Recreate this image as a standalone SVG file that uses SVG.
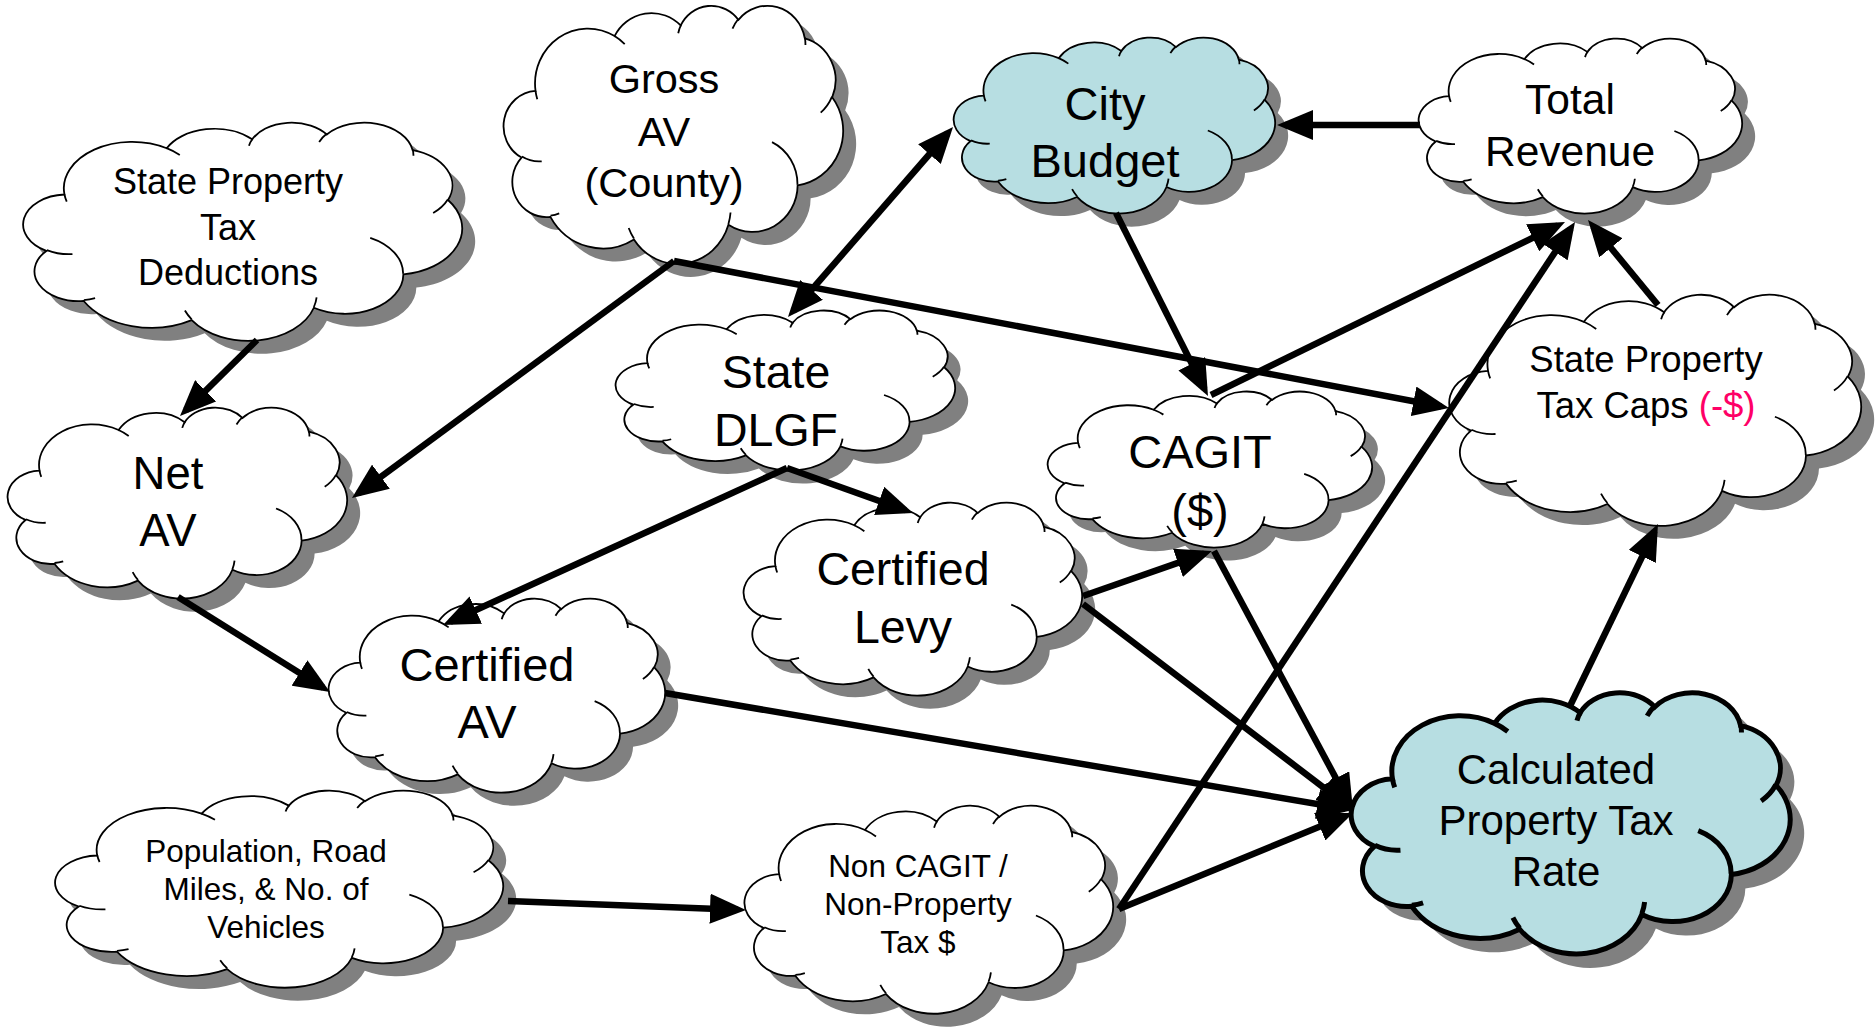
<svg xmlns="http://www.w3.org/2000/svg" xmlns:xlink="http://www.w3.org/1999/xlink" width="1876" height="1027" viewBox="0 0 1876 1027">
<style>
.sh{fill:#808080;stroke:none}
.cl{fill:#ffffff;stroke:#000000;stroke-width:1.8}
.tl{fill:#B7DEE2;stroke:#000000;stroke-width:1.8}
.tlb{fill:#B7DEE2;stroke:#000000;stroke-width:5}
.t{font-family:"Liberation Sans",Arial,sans-serif;fill:#000000;text-anchor:middle}
.ln{stroke:#000000;stroke-width:6.5;fill:none}
</style>
<defs>
<path id="cloud" vector-effect="non-scaling-stroke" d="M9.03,33.26 A15.63,21.27 0 0 1 32.42,12.04 A12.35,16.82 0 0 1 51.98,7.94 A10.10,13.76 0 0 1 69.05,5.74 A11.24,15.27 0 0 1 88.70,12.90 A12.35,16.84 0 0 1 96.80,35.78 A15.68,21.34 0 0 1 86.58,69.91 A13.39,18.21 0 0 1 66.10,85.21 A15.63,21.33 0 0 1 38.15,90.89 A17.87,24.41 0 0 1 13.43,82.10 A10.09,13.70 0 0 1 4.89,59.13 A10.06,13.76 0 0 1 9.03,33.26 Z"/>
<path id="cloudIn" fill="none" vector-effect="non-scaling-stroke" d="M10.86,60.60 A10.06,13.76 0 0 1 5.00,58.75 M16.04,80.78 A10.09,13.70 0 0 1 13.47,81.67 M38.14,90.49 A15.63,21.33 0 0 1 36.59,86.45 M66.73,80.44 A15.63,21.33 0 0 1 66.11,84.86 M79.00,53.13 A13.39,18.21 0 0 1 86.53,69.65 M96.75,35.54 A12.35,16.84 0 0 1 93.40,41.74 M88.71,12.56 A11.24,15.27 0 0 1 88.89,15.49 M67.31,9.15 A11.24,15.27 0 0 1 69.03,5.42 M51.25,10.93 A10.10,13.76 0 0 1 52.08,7.71 M32.41,12.02 A15.63,21.27 0 0 1 35.42,15.14 M9.55,36.55 A15.63,21.27 0 0 1 9.03,33.27"/>
<marker id="ah" viewBox="0 0 36 30" refX="28" refY="15" markerWidth="36" markerHeight="30" markerUnits="userSpaceOnUse" orient="auto-start-reverse">
<path d="M0,0 L36,15 L0,30 Z" fill="#000000"/>
</marker>
</defs>

<g id="node-sptd">
<use xlink:href="#cloud" class="sh" transform="translate(38,135) scale(4.37,2.18)"/>
<g transform="translate(25,122) scale(4.37,2.18)" class="cl"><use xlink:href="#cloud"/><use xlink:href="#cloudIn"/></g>
<text class="t" font-size="36"><tspan x="228" y="194">State Property</tspan><tspan x="228" y="240">Tax</tspan><tspan x="228" y="285">Deductions</tspan></text>
</g>

<g id="node-gross">
<use xlink:href="#cloud" class="sh" transform="translate(518,18) scale(3.38,2.58)"/>
<g transform="translate(505,5) scale(3.38,2.58)" class="cl"><use xlink:href="#cloud"/><use xlink:href="#cloudIn"/></g>
<text class="t" font-size="41.5"><tspan x="664" y="93">Gross</tspan><tspan x="664" y="146">AV</tspan><tspan x="664" y="197">(County)</tspan></text>
</g>

<g id="node-city">
<use xlink:href="#cloud" class="sh" transform="translate(968,50) scale(3.2,1.76)"/>
<g transform="translate(955,37) scale(3.2,1.76)" class="tl"><use xlink:href="#cloud"/><use xlink:href="#cloudIn"/></g>
<text class="t" font-size="47"><tspan x="1105" y="120">City</tspan><tspan x="1105" y="177">Budget</tspan></text>
</g>

<g id="node-total">
<use xlink:href="#cloud" class="sh" transform="translate(1433,51) scale(3.22,1.75)"/>
<g transform="translate(1420,38) scale(3.22,1.75)" class="cl"><use xlink:href="#cloud"/><use xlink:href="#cloudIn"/></g>
<text class="t" font-size="42.5"><tspan x="1570" y="114">Total</tspan><tspan x="1570" y="166">Revenue</tspan></text>
</g>

<g id="node-caps">
<use xlink:href="#cloud" class="sh" transform="translate(1464,307) scale(4.1,2.31)"/>
<g transform="translate(1451,294) scale(4.1,2.31)" class="cl"><use xlink:href="#cloud"/><use xlink:href="#cloudIn"/></g>
<text class="t" font-size="36.5"><tspan x="1646" y="372">State Property</tspan><tspan x="1646" y="418">Tax Caps <tspan fill="#FF0066">(-$)</tspan></tspan></text>
</g>

<g id="node-net">
<use xlink:href="#cloud" class="sh" transform="translate(22,420) scale(3.38,1.91)"/>
<g transform="translate(9,407) scale(3.38,1.91)" class="cl"><use xlink:href="#cloud"/><use xlink:href="#cloudIn"/></g>
<text class="t" font-size="45.5"><tspan x="168" y="489">Net</tspan><tspan x="168" y="546">AV</tspan></text>
</g>

<g id="node-dlgf">
<use xlink:href="#cloud" class="sh" transform="translate(630,323) scale(3.38,1.6)"/>
<g transform="translate(617,310) scale(3.38,1.6)" class="cl"><use xlink:href="#cloud"/><use xlink:href="#cloudIn"/></g>
<text class="t" font-size="46.5"><tspan x="776" y="388">State</tspan><tspan x="776" y="446">DLGF</tspan></text>
</g>

<g id="node-cagit">
<use xlink:href="#cloud" class="sh" transform="translate(1062,404) scale(3.23,1.56)"/>
<g transform="translate(1049,391) scale(3.23,1.56)" class="cl"><use xlink:href="#cloud"/><use xlink:href="#cloudIn"/></g>
<text class="t" font-size="47"><tspan x="1200" y="468">CAGIT</tspan><tspan x="1200" y="527">($)</tspan></text>
</g>

<g id="node-levy">
<use xlink:href="#cloud" class="sh" transform="translate(758,515) scale(3.37,1.93)"/>
<g transform="translate(745,502) scale(3.37,1.93)" class="cl"><use xlink:href="#cloud"/><use xlink:href="#cloudIn"/></g>
<text class="t" font-size="46.5"><tspan x="903" y="585">Certified</tspan><tspan x="903" y="643">Levy</tspan></text>
</g>

<g id="node-certav">
<use xlink:href="#cloud" class="sh" transform="translate(343,611) scale(3.35,1.94)"/>
<g transform="translate(330,598) scale(3.35,1.94)" class="cl"><use xlink:href="#cloud"/><use xlink:href="#cloudIn"/></g>
<text class="t" font-size="47"><tspan x="487" y="681">Certified</tspan><tspan x="487" y="738">AV</tspan></text>
</g>

<g id="node-calc">
<use xlink:href="#cloud" class="sh" transform="translate(1367,706) scale(4.37,2.61)"/>
<g transform="translate(1353,692) scale(4.37,2.61)" class="tlb"><use xlink:href="#cloud"/><use xlink:href="#cloudIn"/></g>
<text class="t" font-size="42"><tspan x="1556" y="784">Calculated</tspan><tspan x="1556" y="835">Property Tax</tspan><tspan x="1556" y="886">Rate</tspan></text>
</g>

<g id="node-pop">
<use xlink:href="#cloud" class="sh" transform="translate(70,803) scale(4.46,1.97)"/>
<g transform="translate(57,790) scale(4.46,1.97)" class="cl"><use xlink:href="#cloud"/><use xlink:href="#cloudIn"/></g>
<text class="t" font-size="31.5"><tspan x="266" y="862">Population, Road</tspan><tspan x="266" y="900">Miles, &amp; No. of</tspan><tspan x="266" y="938">Vehicles</tspan></text>
</g>

<g id="node-noncagit">
<use xlink:href="#cloud" class="sh" transform="translate(759,818) scale(3.67,2.08)"/>
<g transform="translate(746,805) scale(3.67,2.08)" class="cl"><use xlink:href="#cloud"/><use xlink:href="#cloudIn"/></g>
<text class="t" font-size="31.5"><tspan x="918" y="877">Non CAGIT /</tspan><tspan x="918" y="915">Non-Property</tspan><tspan x="918" y="953">Tax $</tspan></text>
</g>

<g id="connectors" class="ln" marker-end="url(#ah)">
<line x1="257" y1="340" x2="185.7" y2="410.4"/>
<line x1="674" y1="261" x2="358.4" y2="493.3"/>
<line x1="674" y1="261" x2="1441.1" y2="406.5"/>
<line x1="793.2" y1="311.0" x2="947.8" y2="133.0" marker-start="url(#ah)"/>
<line x1="787" y1="468" x2="905.5" y2="510.3"/>
<line x1="787" y1="468" x2="450.3" y2="621.7"/>
<line x1="178" y1="597" x2="323.2" y2="687.8"/>
<line x1="665" y1="693" x2="1345.1" y2="808.7"/>
<line x1="1083" y1="604" x2="1346.6" y2="805.1"/>
<line x1="1083" y1="596" x2="1204.4" y2="553.6"/>
<line x1="1214" y1="551" x2="1349.2" y2="803.0"/>
<line x1="1116" y1="213" x2="1204.4" y2="388.8"/>
<line x1="1211" y1="395" x2="1557.8" y2="225.5"/>
<line x1="1420" y1="125" x2="1285" y2="125"/>
<line x1="1658" y1="305" x2="1593.1" y2="226.2"/>
<line x1="1570" y1="706" x2="1654.5" y2="531.2"/>
<line x1="508" y1="901" x2="738" y2="909.7"/>
<line x1="1119" y1="909" x2="1345.6" y2="816.0"/>
<line x1="1119" y1="909" x2="1570.6" y2="228.7"/>
</g>
</svg>
